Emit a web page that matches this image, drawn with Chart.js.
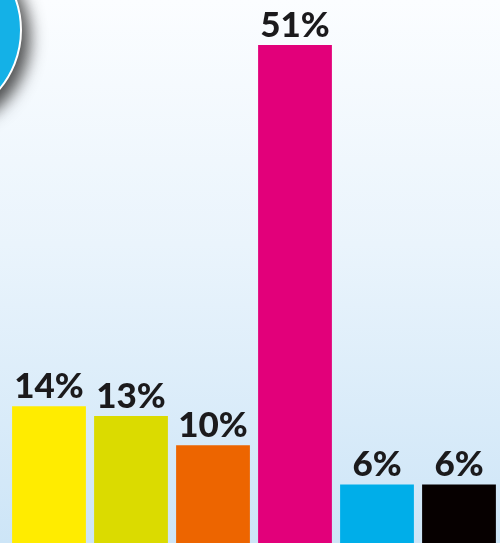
<!DOCTYPE html>
<html>
<head>
<meta charset="utf-8">
<script src="https://cdn.jsdelivr.net/npm/chart.js@4"></script>
<style>
    html, body {
        margin: 0;
        padding: 0;
    }
    body {
        width: 500px;
        height: 543px;
        overflow: hidden;
        position: relative;
        background: linear-gradient(to bottom, #fbfdff 0%, #eaf4fc 45%, #cde5f7 100%);
    }
    #badge {
        position: absolute;
        left: -164px;
        top: -63px;
        width: 182px;
        height: 182px;
        border-radius: 50%;
        background: #14b1e7;
        border: 2px solid #ffffff;
        box-shadow: 8px 8px 16px rgba(40, 40, 40, 0.8);
    }
    #wrap {
        position: absolute;
        left: 0;
        top: 0;
        width: 500px;
        height: 543px;
    }
</style>
</head>
<body>
<div id="badge"></div>
<div id="wrap"><canvas id="barChart"></canvas></div>
<script>
const categorias = ['A', 'B', 'C', 'D', 'E', 'F'];
const valores = [14, 13, 10, 51, 6, 6];
const rotulos = ['14%', '13%', '10%', '51%', '6%', '6%'];
const cores = ['#ffec00', '#dbdb00', '#ed6500', '#e2007a', '#00aee9', '#060000'];

// escreve o percentual em cima de cada barra
const rotuloPlugin = {
    id: 'rotuloPlugin',
    afterDatasetsDraw(chart) {
        const ctx = chart.ctx;
        const meta = chart.getDatasetMeta(0);
        ctx.save();
        ctx.fillStyle = '#1b1a1c';
        ctx.font = '900 35px Lato, "DejaVu Sans", sans-serif';
        ctx.textAlign = 'center';
        ctx.textBaseline = 'alphabetic';
        meta.data.forEach((bar, i) => {
            ctx.fillText(rotulos[i], bar.x, bar.y - 8);
        });
        ctx.restore();
    }
};

const ctxBar = document.getElementById('barChart').getContext('2d');
new Chart(ctxBar, {
    type: 'bar',
    data: {
        labels: categorias,
        datasets: [{
            data: valores,
            backgroundColor: cores,
            borderWidth: 0,
            categoryPercentage: 1,
            barPercentage: 0.9
        }]
    },
    options: {
        responsive: true,
        maintainAspectRatio: false,
        animation: false,
        layout: {
            padding: { left: 8, right: 0, top: 0, bottom: 0 }
        },
        scales: {
            x: { display: false },
            y: { display: false, min: 0, max: 55.6 }
        },
        plugins: {
            legend: { display: false },
            tooltip: { enabled: false }
        }
    },
    plugins: [rotuloPlugin]
});
</script>
</body>
</html>
